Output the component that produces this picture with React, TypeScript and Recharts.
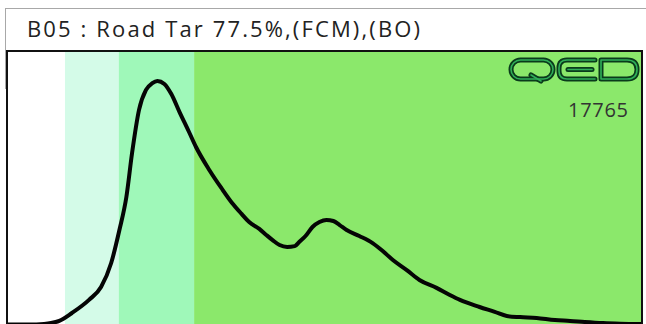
import React from 'react';
import { LineChart, Line, XAxis, YAxis, ReferenceArea } from 'recharts';

// run position (% of run) and detector response (% of full scale)
const runPos = [
  0, 3.3, 5.7, 6.8, 8.1, 10.1, 12.8, 14.7, 16.3, 17.6, 18.7, 19.6, 20.7, 21.8,
  22.8, 23.6, 24.7, 25.8, 27.1, 28.6, 29.7, 31.8, 33.7, 35.4, 36.9, 38.1, 39.7,
  40.8, 41.8, 42.9, 44.1, 45.3, 46.0, 47.0, 48.1, 49.2, 50.3, 51.4, 52.4, 53.5,
  55.5, 57.6, 59.2, 60.8, 63.0, 65.0, 67.7, 69.8, 71.4, 74.5, 76.9, 78.8, 80.9,
  83.5, 86.4, 88.8, 91.1, 94.0, 96.7, 100,
];
const response = [
  0.2, 0.2, 0.4, 0.7, 1.5, 4.4, 9.2, 13.9, 22.7, 34.8, 46.9, 63.0, 78.8, 86.1,
  88.6, 89.4, 88.3, 84.6, 78.0, 70.7, 65.2, 56.8, 50.2, 44.7, 40.7, 37.7, 35.2,
  33.0, 31.1, 29.3, 28.6, 28.9, 30.4, 32.6, 35.9, 37.7, 38.5, 38.1, 36.6, 34.8,
  32.6, 30.0, 27.1, 23.8, 20.1, 16.5, 13.6, 11.0, 9.2, 6.6, 4.8, 3.3, 2.9,
  2.6, 1.8, 1.5, 1.1, 0.7, 0.5, 0.4,
];

// boiling-range bands along the run
const bandEdges = [0, 9.0, 17.5, 29.4, 100];
const bandColors = ['#ffffff', '#d4fbe8', '#9ff8b9', '#8be86b'];

const title = 'B05 : Road Tar 77.5%,(FCM),(BO)';
const sampleId = '17765';

const data = runPos.map((t, i) => ({ t, v: response[i] }));

const QedLogo = () => (
  <svg width={646} height={324} style={{ position: 'absolute', left: 0, top: 0 }}>
    <g fill="none" strokeLinecap="round" strokeLinejoin="round">
      {[
        { c: '#0a3a1b', w: 5 },
        { c: '#2fae58', w: 1.6 },
      ].map((s, k) => (
        <g key={k} stroke={s.c} strokeWidth={s.w}>
          <rect x={511} y={60} width={42} height={19} rx={9.5} />
          <path d="M531 75 L541 81" />
          <path d="M595 60 H567 Q559 60 559 68 V71 Q559 79 567 79 H595" />
          <path d="M568 69.5 H592" />
          <path d="M601 60 H627 Q637 60 637 69.5 Q637 79 627 79 H601 Z" />
        </g>
      ))}
    </g>
    <text
      x={628}
      y={117}
      textAnchor="end"
      textLength={60}
      fontFamily="'Open Sans', sans-serif"
      fontSize={20}
      fill="#333"
    >
      {sampleId}
    </text>
  </svg>
);

export default function App() {
  return (
    <div
      style={{
        position: 'absolute',
        left: 0,
        top: 0,
        width: 646,
        height: 324,
        overflow: 'hidden',
        background: '#fff',
      }}
    >
      <div
        style={{
          position: 'absolute',
          left: 5,
          top: 8,
          width: 660,
          height: 80,
          borderLeft: '1px solid #a8a8a8',
          borderTop: '1px solid #a8a8a8',
        }}
      />
      <svg width={646} height={50} style={{ position: 'absolute', left: 0, top: 0 }}>
        <text
          x={27}
          y={37}
          textLength={393}
          lengthAdjust="spacing"
          fontFamily="'Open Sans', sans-serif"
          fontSize={22}
          fill="#222"
        >
          {title}
        </text>
      </svg>
      <div
        style={{
          position: 'absolute',
          left: 6,
          top: 50,
          width: 633,
          height: 300,
          border: '2px solid #111',
        }}
      />
      <div style={{ position: 'absolute', left: 8, top: 52 }}>
        <LineChart
          width={633}
          height={273}
          data={data}
          margin={{ top: 0, right: 0, bottom: 0, left: 0 }}
        >
          <XAxis dataKey="t" type="number" domain={[0, 100]} hide />
          <YAxis type="number" domain={[0, 100]} hide />
          {bandColors.map((c, i) => (
            <ReferenceArea
              key={i}
              x1={bandEdges[i]}
              x2={bandEdges[i + 1]}
              fill={c}
              fillOpacity={1}
              stroke="none"
            />
          ))}
          <Line
            type="monotone"
            dataKey="v"
            stroke="#050505"
            strokeWidth={4}
            dot={false}
            isAnimationActive={false}
          />
        </LineChart>
      </div>
      <QedLogo />
    </div>
  );
}
